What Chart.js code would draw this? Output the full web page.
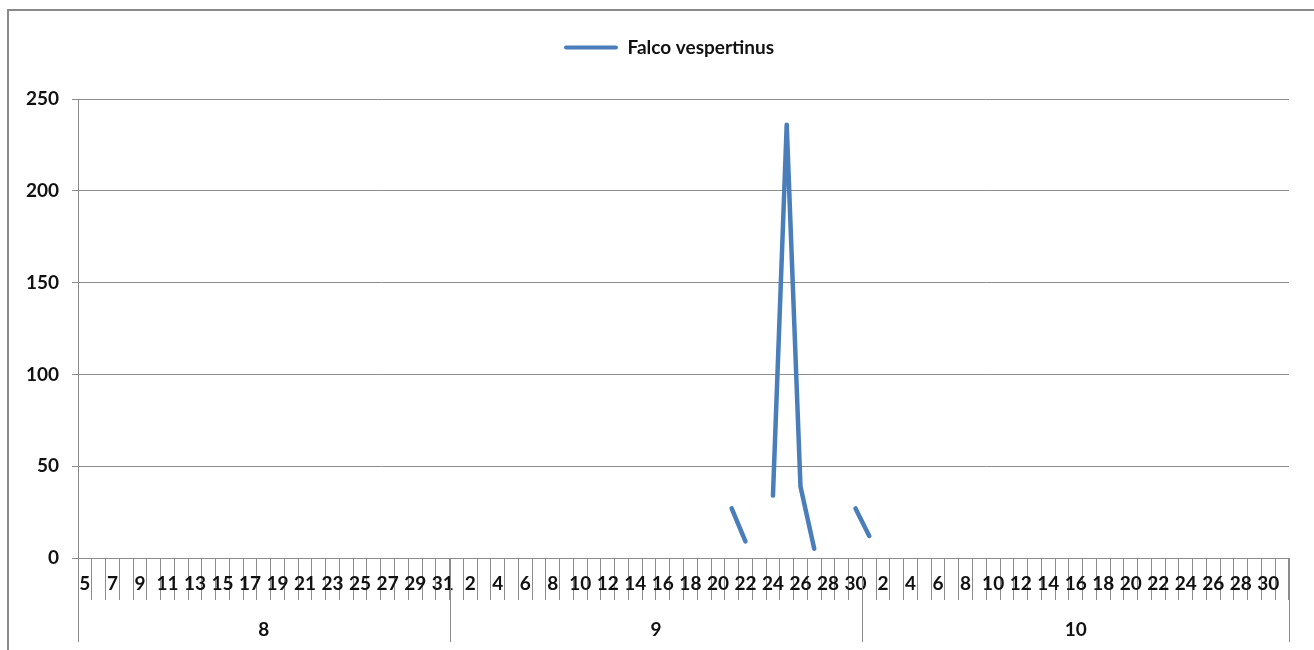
<!DOCTYPE html>
<html>
<head>
<meta charset="utf-8">
<title>Falco vespertinus</title>
<script src="https://cdn.jsdelivr.net/npm/chart.js@4/dist/chart.umd.min.js"></script>
<style>
  html, body { margin: 0; padding: 0; background: #fff; overflow: hidden; }
  #wrap { position: relative; width: 1314px; height: 650px; }
  #frame { position: absolute; left: 7px; top: 9px; width: 1400px; height: 700px;
           border: 2px solid #8a8a8a; box-sizing: border-box; }
  #chart { position: absolute; left: 0; top: 0; }
</style>
</head>
<body>
<div id="wrap">
  <div id="frame"></div>
  <canvas id="chart" width="1314" height="650"></canvas>
</div>
<script>
// Observation days, grouped by month (month number, days observed)
const months = ['8', '9', '10'];
const augustDays = [5, 6, 7, 8, 9, 10, 11, 12, 13, 14, 15, 16, 17, 18, 19, 20, 21, 22, 23, 24, 25, 26, 27, 28, 29, 30, 31];
const septemberDays = [1, 2, 3, 4, 5, 6, 7, 8, 9, 10, 11, 12, 13, 14, 15, 16, 17, 18, 19, 20, 21, 22, 23, 24, 25, 26, 27, 28, 29, 30];
const octoberDays = [1, 2, 3, 4, 5, 6, 7, 8, 9, 10, 11, 12, 13, 14, 15, 16, 17, 18, 19, 20, 21, 22, 23, 24, 25, 26, 27, 28, 29, 30, 31];

// Days with counted birds (month-day) and the counts
const countDates = ['9-21', '9-22', '9-24', '9-25', '9-26', '9-27', '9-30', '10-1'];
const counts = [27, 9, 34, 236, 39, 5, 27, 12];

// Y axis ticks
const yTicks = [0, 50, 100, 150, 200, 250];

const seriesName = 'Falco vespertinus';
const lineColor = '#4a7ebb';
const gridColor = '#8c8c8c';
const textColor = '#111111';
const fontFamily = 'Lato, "Open Sans", sans-serif';
const fontSize = 19;

const monthDays = [augustDays, septemberDays, octoberDays];
const categories = [];
const categoryKeys = [];
monthDays.forEach((days, m) => {
  days.forEach(d => { categories.push(String(d)); categoryKeys.push(months[m] + '-' + d); });
});
const values = categoryKeys.map(k => {
  const i = countDates.indexOf(k);
  return i >= 0 ? counts[i] : null;
});

// Second row of the category axis: month names with separators spanning the row
const monthRow = {
  id: 'monthRow',
  afterDraw(chart) {
    const x = chart.scales.x;
    const ctx = chart.ctx;
    const top = x.top;
    const bottom = x.top + 84;
    ctx.save();
    ctx.strokeStyle = gridColor;
    ctx.lineWidth = 1;
    ctx.fillStyle = textColor;
    ctx.font = 'bold ' + fontSize + 'px ' + fontFamily;
    ctx.textAlign = 'center';
    ctx.textBaseline = 'middle';
    let start = 0;
    monthDays.forEach((days, m) => {
      const end = start + days.length;
      const x0 = x.getPixelForValue(start - 0.5);
      const x1 = x.getPixelForValue(end - 0.5);
      [x0, x1].forEach(px => {
        const p = Math.round(px) + 0.5;
        ctx.beginPath();
        ctx.moveTo(p, top);
        ctx.lineTo(p, bottom);
        ctx.stroke();
      });
      ctx.fillText(months[m], (x0 + x1) / 2, top + 72);
      start = end;
    });
    ctx.restore();
  }
};

// Centre the legend over the framed area rather than the whole canvas
const legendBand = {
  id: 'legendBand',
  afterLayout(chart) {
    const lg = chart.legend;
    if (lg) {
      lg.left = 49;
      lg.width = lg.right - lg.left;
    }
  }
};

new Chart(document.getElementById('chart'), {
  type: 'line',
  data: {
    labels: categories,
    datasets: [{
      label: seriesName,
      data: values,
      borderColor: lineColor,
      backgroundColor: lineColor,
      borderWidth: 4.5,
      borderCapStyle: 'round',
      borderJoinStyle: 'round',
      pointRadius: 0,
      pointHoverRadius: 0,
      tension: 0,
      spanGaps: false,
      fill: false
    }]
  },
  options: {
    responsive: false,
    animation: false,
    events: [],
    layout: { padding: { left: 0, right: 25, top: 5, bottom: 0 } },
    plugins: {
      tooltip: { enabled: false },
      legend: {
        display: true,
        position: 'top',
        align: 'center',
        weight: 3000,
        labels: {
          boxWidth: 54,
          boxHeight: 4,
          padding: 33,
          color: textColor,
          font: { family: fontFamily, size: fontSize, weight: 'bold' },
          generateLabels(chart) {
            return chart.data.datasets.map((ds, i) => ({
              text: ds.label,
              fillStyle: ds.borderColor,
              strokeStyle: ds.borderColor,
              lineWidth: 0,
              borderRadius: 2,
              fontColor: textColor,
              datasetIndex: i,
              hidden: false
            }));
          }
        }
      },
      // blank spacer between the legend and the plot
      title: {
        display: true,
        text: ' ',
        position: 'top',
        weight: 2000,
        padding: 0,
        font: { size: 32, lineHeight: 1 }
      }
    },
    scales: {
      x: {
        type: 'category',
        offset: true,
        afterFit(scale) { scale.height = 92; },
        border: { display: true, color: gridColor, width: 1 },
        grid: {
          display: true,
          offset: true,
          drawOnChartArea: false,
          drawTicks: true,
          tickLength: 42,
          color: gridColor,
          lineWidth: 1
        },
        ticks: {
          autoSkip: false,
          maxRotation: 0,
          minRotation: 0,
          padding: -28,
          color: textColor,
          font: { family: fontFamily, size: fontSize, weight: 'bold' },
          callback(value, index) { return index % 2 === 0 ? categories[index] : ''; }
        }
      },
      y: {
        min: 0,
        max: 250,
        afterFit(scale) { scale.width = 78; },
        afterBuildTicks(scale) { scale.ticks = yTicks.map(v => ({ value: v })); },
        border: { display: true, color: gridColor, width: 1 },
        grid: {
          color: gridColor,
          lineWidth: 1,
          drawTicks: true,
          tickLength: 6
        },
        ticks: {
          padding: 13,
          color: textColor,
          font: { family: fontFamily, size: fontSize, weight: 'bold' }
        }
      }
    }
  },
  plugins: [monthRow, legendBand]
});
</script>
</body>
</html>
